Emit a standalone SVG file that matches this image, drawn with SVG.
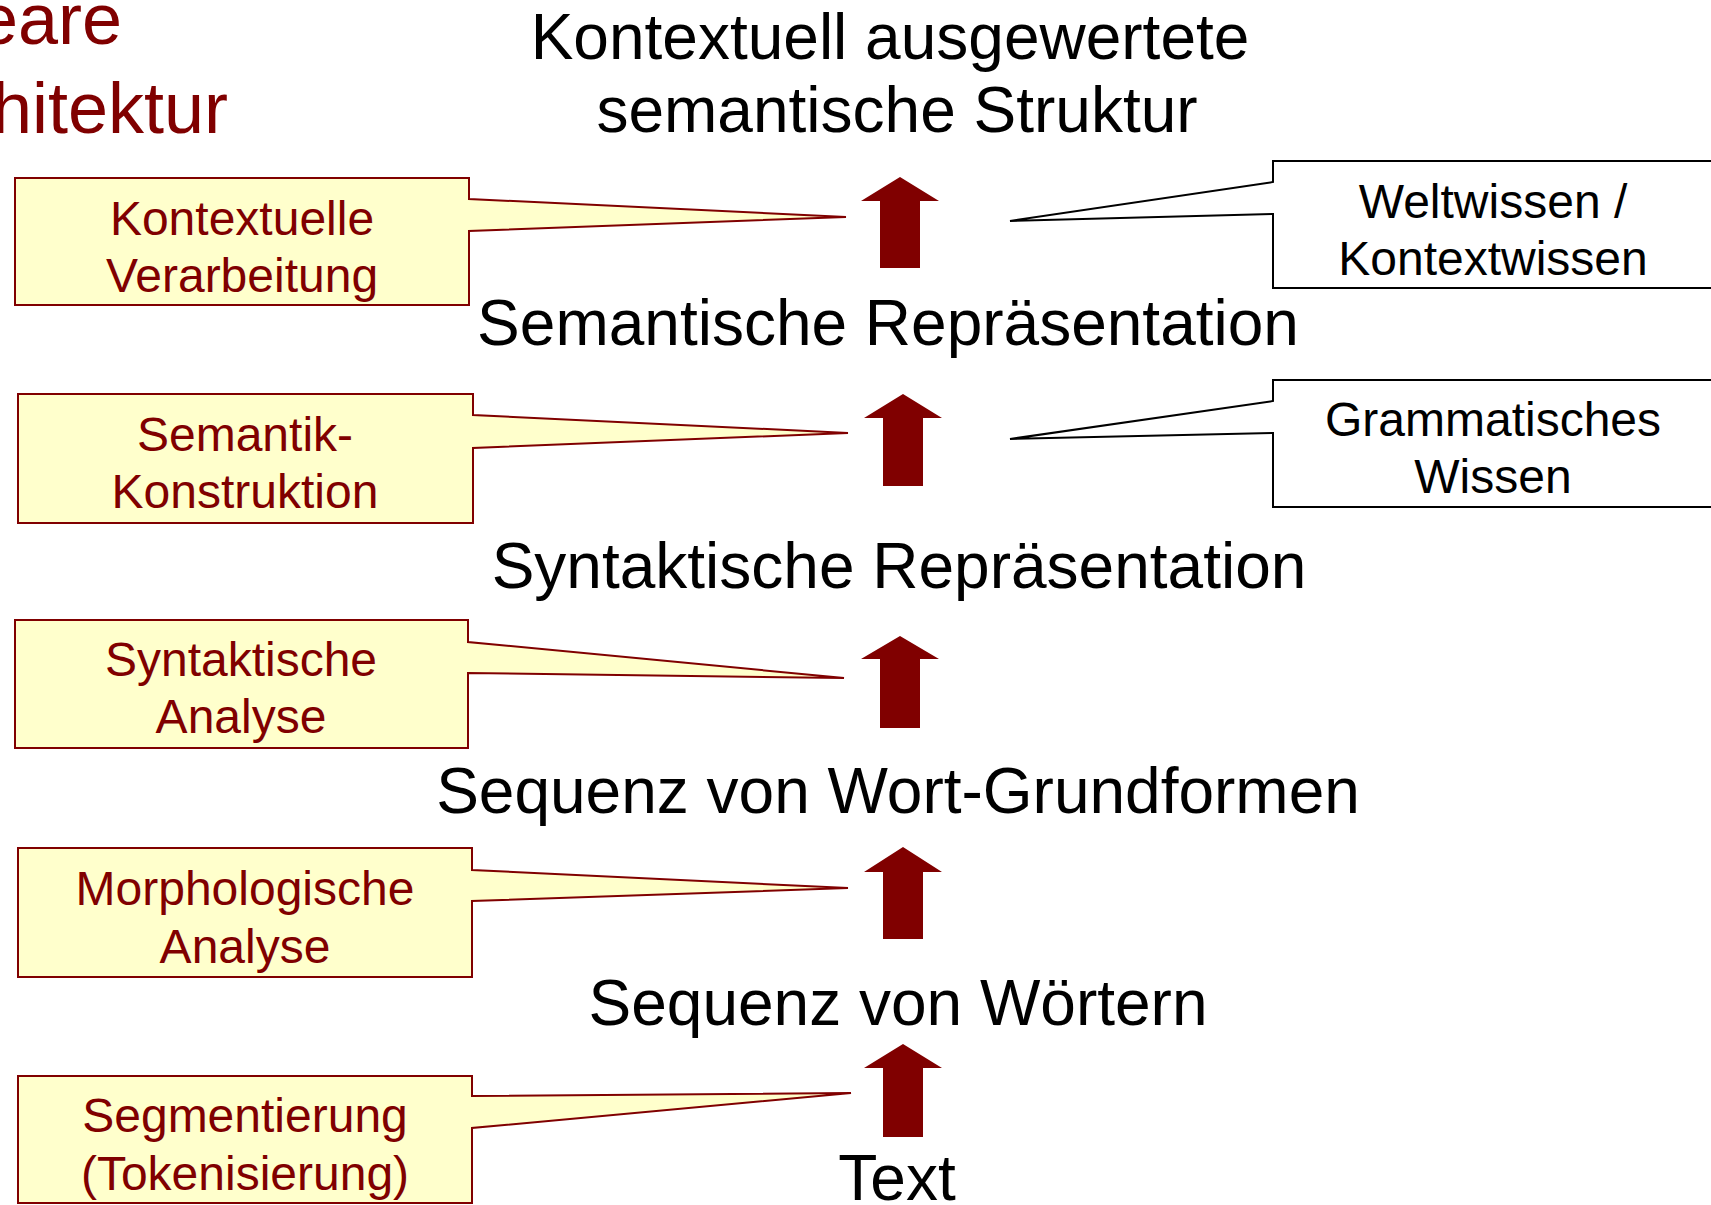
<svg xmlns="http://www.w3.org/2000/svg" width="1711" height="1205" viewBox="0 0 1711 1205">
<style>
  .title { font-family: "Liberation Sans", Arial, sans-serif; font-size: 72px; fill: #800000; }
  .main { font-family: "Liberation Sans", Arial, sans-serif; font-size: 64px; fill: #000000; text-anchor: middle; }
  .lbl { font-family: "Liberation Sans", Arial, sans-serif; font-size: 48px; fill: #800000; text-anchor: middle; }
  .kn { font-family: "Liberation Sans", Arial, sans-serif; font-size: 48px; fill: #000000; text-anchor: middle; }
  .callout { fill: #FFFFCC; stroke: #800000; stroke-width: 2; stroke-linejoin: miter; }
  .know { fill: #FFFFFF; stroke: #000000; stroke-width: 2; stroke-linejoin: miter; }
  .arrow { fill: #800000; stroke: none; }
</style>
<rect x="0" y="0" width="1711" height="1205" fill="#FFFFFF"/>

<g id="title">
  <text class="title" x="122" y="44" text-anchor="end">eare</text>
  <text class="title" x="228" y="133" text-anchor="end">hitektur</text>
</g>

<g id="n-kontextuell">
  <text class="main" x="890" y="59">Kontextuell ausgewertete</text>
  <text class="main" x="897" y="132">semantische Struktur</text>
</g>
<g id="n-semantisch"><text class="main" x="888" y="345">Semantische Repräsentation</text></g>
<g id="n-syntaktisch"><text class="main" x="899" y="588">Syntaktische Repräsentation</text></g>
<g id="n-grundformen"><text class="main" x="898" y="813">Sequenz von Wort-Grundformen</text></g>
<g id="n-woerter"><text class="main" x="898" y="1025">Sequenz von Wörtern</text></g>
<g id="n-text"><text class="main" x="897" y="1200">Text</text></g>

<g id="c-kontextuelle-verarbeitung">
  <path class="callout" d="M15,178 H469 V199 L846,217 L469,231 V305 H15 Z"/>
  <text class="lbl" x="242" y="235">Kontextuelle</text>
  <text class="lbl" x="242" y="292">Verarbeitung</text>
</g>
<g id="c-semantik-konstruktion">
  <path class="callout" d="M18,394 H473 V415 L848,433 L473,448 V523 H18 Z"/>
  <text class="lbl" x="245" y="451">Semantik-</text>
  <text class="lbl" x="245" y="508">Konstruktion</text>
</g>
<g id="c-syntaktische-analyse">
  <path class="callout" d="M15,620 H468 V642 L844,678 L468,673 V748 H15 Z"/>
  <text class="lbl" x="241" y="676">Syntaktische</text>
  <text class="lbl" x="241" y="733">Analyse</text>
</g>
<g id="c-morphologische-analyse">
  <path class="callout" d="M18,848 H472 V870 L848,888 L472,901 V977 H18 Z"/>
  <text class="lbl" x="245" y="905">Morphologische</text>
  <text class="lbl" x="245" y="963">Analyse</text>
</g>
<g id="c-segmentierung">
  <path class="callout" d="M18,1076 H472 V1096 L851,1093 L472,1128 V1203 H18 Z"/>
  <text class="lbl" x="245" y="1132">Segmentierung</text>
  <text class="lbl" x="245" y="1190">(Tokenisierung)</text>
</g>

<g id="k-weltwissen">
  <path class="know" d="M1273,161 H1716 V288 H1273 V214 L1010,221 L1273,182 Z"/>
  <text class="kn" x="1493" y="218">Weltwissen /</text>
  <text class="kn" x="1493" y="275">Kontextwissen</text>
</g>
<g id="k-grammatisch">
  <path class="know" d="M1273,380 H1716 V507 H1273 V433 L1010,439 L1273,401 Z"/>
  <text class="kn" x="1493" y="436">Grammatisches</text>
  <text class="kn" x="1493" y="493">Wissen</text>
</g>

<g id="connectors">
  <path class="arrow" d="M900,177 L939,201 L920,201 L920,268 L880,268 L880,201 L861,201 Z"/>
  <path class="arrow" d="M903,394 L942,418 L923,418 L923,486 L883,486 L883,418 L864,418 Z"/>
  <path class="arrow" d="M900,636 L939,659 L920,659 L920,728 L880,728 L880,659 L861,659 Z"/>
  <path class="arrow" d="M903,847 L942,872 L923,872 L923,939 L883,939 L883,872 L864,872 Z"/>
  <path class="arrow" d="M903,1044 L942,1068 L923,1068 L923,1137 L883,1137 L883,1068 L864,1068 Z"/>
</g>
</svg>
